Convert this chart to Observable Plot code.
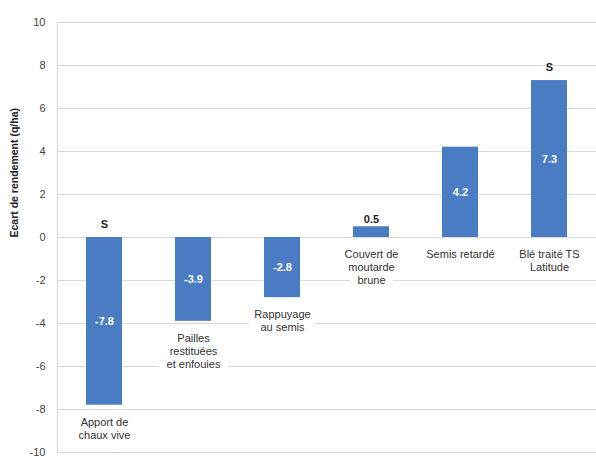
<!DOCTYPE html>
<html>
<head>
<meta charset="utf-8">
<script src="https://cdn.jsdelivr.net/npm/d3@7"></script>
<script src="https://cdn.jsdelivr.net/npm/@observablehq/plot@0.6"></script>
<style>
  html, body { margin: 0; padding: 0; background: #fff; }
  #chart { width: 596px; height: 457px; }
</style>
</head>
<body>
<div id="chart"></div>
<script>
const categories = [
  "Apport de\nchaux vive",
  "Pailles\nrestituées\net enfouies",
  "Rappuyage\nau semis",
  "Couvert de\nmoutarde\nbrune",
  "Semis retardé",
  "Blé traité TS\nLatitude"
];
const values = [-7.8, -3.9, -2.8, 0.5, 4.2, 7.3];
const valueLabels = ["-7.8", "-3.9", "-2.8", "0.5", "4.2", "7.3"];
const significance = ["S", "", "", "", "", "S"];
const yTicks = [-10, -8, -6, -4, -2, 0, 2, 4, 6, 8, 10];

const data = categories.map((c, i) => ({
  cat: c, v: values[i], label: valueLabels[i], sig: significance[i]
}));

const font = "'Liberation Sans', Arial, sans-serif";

const catLabel = {
  x: "cat", y: d => Math.min(d.v, 0), text: "cat",
  lineAnchor: "top", dy: 11, fontSize: 11, lineHeight: 1.2
};

const chart = Plot.plot({
  width: 596,
  height: 457,
  marginTop: 22,
  marginBottom: 5,
  marginLeft: 57,
  marginRight: 0,
  style: { fontFamily: font, background: "#fff" },
  x: { domain: categories, paddingInner: 0.6, paddingOuter: 0.3, axis: null },
  y: { domain: [-10, 10], ticks: yTicks, label: null },
  marks: [
    Plot.gridY(yTicks, { stroke: "#d9d9d9", strokeOpacity: 1, strokeWidth: 1.2 }),
    Plot.frame({ anchor: "left", stroke: "#d9d9d9", strokeWidth: 1.2 }),
    Plot.axisY(yTicks, {
      tickSize: 0, tickPadding: 12, fontSize: 11, fill: "#444",
      tickFormat: d => String(d), label: null
    }),
    Plot.text(["Ecart de rendement (q/ha)"], {
      frameAnchor: "left", rotate: -90, dx: -43,
      fontSize: 10.5, fontWeight: "bold", fill: "#222"
    }),
    // white label boxes hiding gridlines behind category labels
    Plot.text(data, {
      ...catLabel, fill: "white", stroke: "white", strokeWidth: 16, strokeLinejoin: "round"
    }),
    Plot.text(data, { ...catLabel, fill: "#333" }),
    Plot.barY(data, { x: "cat", y: "v", fill: "#4a7cc3" }),
    // value labels inside bars (white) or above small bars (black)
    Plot.text(data.filter(d => Math.abs(d.v) >= 1), {
      x: "cat", y: d => d.v / 2, text: "label",
      fill: "white", fontWeight: "bold", fontSize: 11
    }),
    Plot.text(data.filter(d => Math.abs(d.v) < 1), {
      x: "cat", y: "v", text: "label", lineAnchor: "bottom", dy: -4,
      fill: "#222", fontWeight: "bold", fontSize: 11
    }),
    Plot.text(data.filter(d => d.sig), {
      x: "cat", y: d => Math.max(d.v, 0), text: "sig", lineAnchor: "bottom", dy: -10,
      fill: "#222", fontWeight: "bold", fontSize: 11
    })
  ]
});

document.getElementById("chart").appendChild(chart);
</script>
</body>
</html>
